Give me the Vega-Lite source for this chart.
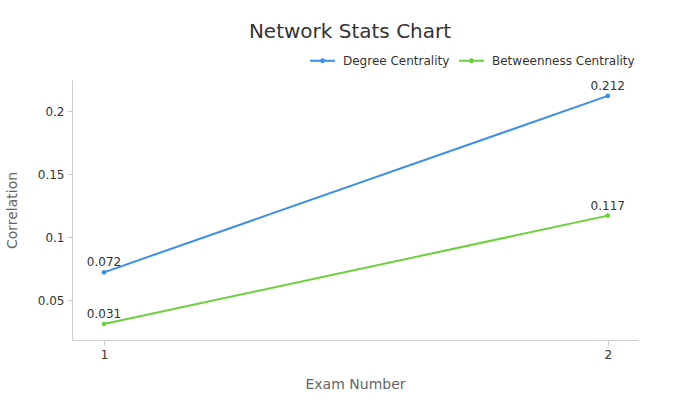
{
  "$schema": "https://vega.github.io/schema/vega-lite/v6.json",
  "width": 566,
  "height": 260,
  "autosize": {"type": "none"},
  "padding": {"left": 72, "top": 80, "right": 62, "bottom": 60},
  "config": {
    "font": "DejaVu Sans",
    "view": {"stroke": null}
  },
  "title": {
    "text": "Network Stats Chart",
    "fontSize": 20,
    "fontWeight": "normal",
    "color": "#333333",
    "anchor": "middle",
    "frame": "group",
    "dx": -5,
    "offset": 6
  },
  "data": {
    "values": [
      {"exam": 1, "metric": "Degree Centrality", "value": 0.072},
      {"exam": 2, "metric": "Degree Centrality", "value": 0.212},
      {"exam": 1, "metric": "Betweenness Centrality", "value": 0.031},
      {"exam": 2, "metric": "Betweenness Centrality", "value": 0.117}
    ]
  },
  "encoding": {
    "x": {
      "field": "exam",
      "type": "quantitative",
      "scale": {"domain": [0.9365, 2.06], "nice": false, "zero": false},
      "axis": {
        "values": [1, 2],
        "format": "d",
        "title": "Exam Number",
        "grid": false,
        "domainColor": "#cccccc",
        "tickColor": "#cccccc",
        "tickSize": 5,
        "labelColor": "#333333",
        "labelFontSize": 12,
        "labelPadding": 4,
        "titleColor": "#666666",
        "titleFontSize": 14,
        "titleFontWeight": "normal",
        "titlePadding": 17
      }
    },
    "y": {
      "field": "value",
      "type": "quantitative",
      "scale": {"domain": [0.0183, 0.2246], "nice": false, "zero": false},
      "axis": {
        "values": [0.05, 0.1, 0.15, 0.2],
        "format": "~g",
        "title": "Correlation",
        "grid": false,
        "domainColor": "#cccccc",
        "tickColor": "#cccccc",
        "tickSize": 5,
        "labelColor": "#333333",
        "labelFontSize": 12,
        "labelPadding": 3,
        "titleColor": "#666666",
        "titleFontSize": 14,
        "titleFontWeight": "normal",
        "titlePadding": 18
      }
    },
    "color": {
      "field": "metric",
      "type": "nominal",
      "scale": {
        "domain": ["Degree Centrality", "Betweenness Centrality"],
        "range": ["#3b8fe4", "#6ad13a"]
      },
      "legend": {
        "title": null,
        "orient": "none",
        "direction": "horizontal",
        "legendX": 238,
        "legendY": -32,
        "symbolType": "M-1,-0.08L1,-0.08L1,0.08L-1,0.08Z M-0.2,0 A0.2,0.2 0 1,1 0.2,0 A0.2,0.2 0 1,1 -0.2,0Z",
        "symbolSize": 625,
        "symbolStrokeWidth": 0,
        "labelFontSize": 12,
        "labelColor": "#333333",
        "labelOffset": 8,
        "columnPadding": 9,
        "encode": {
          "symbols": {
            "update": {
              "fill": {"scale": "color", "field": "value"},
              "fillOpacity": {"value": 1},
              "strokeWidth": {"value": 0}
            }
          }
        }
      }
    }
  },
  "layer": [
    {"mark": {"type": "line", "strokeWidth": 2}},
    {"mark": {"type": "point", "filled": true, "size": 22, "opacity": 1}},
    {
      "mark": {"type": "text", "baseline": "bottom", "dy": -3, "fontSize": 12, "color": "#333333"},
      "encoding": {
        "text": {"field": "value", "type": "quantitative", "format": ".3f"},
        "color": {"value": "#333333"}
      }
    }
  ]
}
